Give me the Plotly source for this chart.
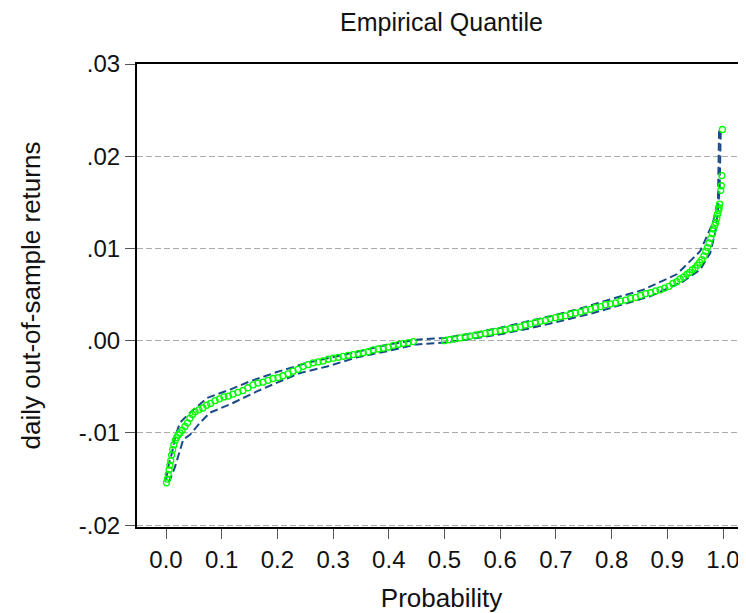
import plotly.graph_objects as go

# Empirical quantile points (probability, sorted daily out-of-sample return)
prob = [0.0010, 0.0025, 0.0040, 0.0055, 0.0070, 0.0085, 0.0100, 0.0120, 0.0140, 0.0165,
        0.0190, 0.0220, 0.0250, 0.0290, 0.0340, 0.0385, 0.0430, 0.0475, 0.0520, 0.0590,
        0.0660, 0.0730, 0.0800, 0.0880, 0.0960, 0.1040, 0.1120, 0.1200, 0.1290, 0.1380,
        0.1470, 0.1560, 0.1650, 0.1740, 0.1830, 0.1920, 0.2010, 0.2100, 0.2190, 0.2280,
        0.2370, 0.2460, 0.2550, 0.2640, 0.2730, 0.2820, 0.2910, 0.3000, 0.3090, 0.3180,
        0.3270, 0.3360, 0.3450, 0.3540, 0.3630, 0.3720, 0.3810, 0.3900, 0.3990, 0.4080,
        0.4170, 0.4260, 0.4350, 0.4440, 0.5000, 0.5090, 0.5180, 0.5280, 0.5370, 0.5460,
        0.5550, 0.5640, 0.5730, 0.5820, 0.5910, 0.6000, 0.6090, 0.6180, 0.6270, 0.6360,
        0.6450, 0.6540, 0.6630, 0.6720, 0.6810, 0.6900, 0.6990, 0.7080, 0.7170, 0.7260,
        0.7350, 0.7440, 0.7530, 0.7620, 0.7710, 0.7800, 0.7890, 0.7980, 0.8070, 0.8160,
        0.8250, 0.8340, 0.8430, 0.8520, 0.8610, 0.8700, 0.8790, 0.8870, 0.8950, 0.9030,
        0.9100, 0.9170, 0.9230, 0.9290, 0.9350, 0.9400, 0.9450, 0.9500, 0.9540, 0.9580,
        0.9620, 0.9660, 0.9690, 0.9720, 0.9750, 0.9780, 0.9810, 0.9830, 0.9850, 0.9870,
        0.9890, 0.9900, 0.9920, 0.9930, 0.9940, 0.9960, 0.9970, 0.9980, 0.9990]
quantile = [-0.0154, -0.0150, -0.0145, -0.0140, -0.0135, -0.0130, -0.0124, -0.0118, -0.0113, -0.0108,
            -0.0105, -0.0102, -0.0100, -0.0097, -0.0093, -0.0089, -0.0084, -0.0080, -0.0077, -0.0075,
            -0.0073, -0.0070, -0.0068, -0.0065, -0.0063, -0.0061, -0.0060, -0.0058, -0.0056, -0.0054,
            -0.0051, -0.0048, -0.0046, -0.0045, -0.0043, -0.0041, -0.0040, -0.0038, -0.0036, -0.0033,
            -0.0031, -0.0028, -0.0026, -0.0024, -0.0023, -0.0022, -0.0020, -0.0019, -0.0018, -0.0017,
            -0.0016, -0.0015, -0.0014, -0.0013, -0.0012, -0.0010, -0.0009, -0.0008, -0.0007, -0.0005,
            -0.0004, -0.0003, -0.0002, -0.0001, 0.0000, 0.0001, 0.0002, 0.0003, 0.0004, 0.0005,
            0.0006, 0.0007, 0.0008, 0.0009, 0.0010, 0.0011, 0.0012, 0.0013, 0.0014, 0.0015,
            0.0017, 0.0018, 0.0020, 0.0021, 0.0022, 0.0024, 0.0025, 0.0026, 0.0027, 0.0029,
            0.0030, 0.0031, 0.0033, 0.0034, 0.0036, 0.0037, 0.0039, 0.0040, 0.0041, 0.0043,
            0.0044, 0.0046, 0.0047, 0.0049, 0.0051, 0.0052, 0.0054, 0.0055, 0.0057, 0.0059,
            0.0062, 0.0064, 0.0067, 0.0069, 0.0072, 0.0074, 0.0077, 0.0079, 0.0082, 0.0085,
            0.0088, 0.0092, 0.0097, 0.0101, 0.0106, 0.0111, 0.0116, 0.0121, 0.0125, 0.0128,
            0.0133, 0.0137, 0.0141, 0.0144, 0.0148, 0.0163, 0.0168, 0.0179, 0.0229]

# Confidence bands (dashed)
upper_prob = [0.000, 0.005, 0.011, 0.016, 0.025, 0.043, 0.074, 0.115, 0.151, 0.199,
              0.253, 0.307, 0.343, 0.400, 0.450, 0.500, 0.550, 0.600, 0.650, 0.700,
              0.750, 0.776, 0.856, 0.917, 0.959, 0.982, 0.991, 0.993]
upper_val = [-0.0151, -0.0134, -0.0121, -0.0105, -0.0089, -0.0078, -0.0062, -0.0053, -0.0044, -0.0034,
             -0.0024, -0.0017, -0.0012, -0.0004, 0.0001, 0.0003, 0.0008, 0.0014, 0.0021, 0.0028,
             0.0036, 0.0041, 0.0055, 0.0072, 0.0097, 0.0128, 0.0153, 0.0229]
lower_prob = [0.005, 0.016, 0.031, 0.043, 0.061, 0.079, 0.115, 0.163, 0.205, 0.241,
              0.289, 0.343, 0.400, 0.450, 0.500, 0.550, 0.600, 0.650, 0.700, 0.750,
              0.767, 0.869, 0.928, 0.959, 0.977, 0.986, 0.991, 0.994, 0.996]
lower_val = [-0.0154, -0.0137, -0.0107, -0.0102, -0.0089, -0.0078, -0.0069, -0.0055, -0.0044, -0.0035,
             -0.0028, -0.0018, -0.0011, -0.0004, -0.0002, 0.0002, 0.0007, 0.0013, 0.0020, 0.0028,
             0.0030, 0.0048, 0.0064, 0.0077, 0.0095, 0.0117, 0.0142, 0.0165, 0.0229]

x_ticks = [0.0, 0.1, 0.2, 0.3, 0.4, 0.5, 0.6, 0.7, 0.8, 0.9, 1.0]
x_tick_labels = ["0.0", "0.1", "0.2", "0.3", "0.4", "0.5", "0.6", "0.7", "0.8", "0.9", "1.0"]
y_ticks = [-0.02, -0.01, 0.0, 0.01, 0.02, 0.03]
y_tick_labels = ["-.02", "-.01", ".00", ".01", ".02", ".03"]

band_color = "#1B4A88"
fig = go.Figure()
fig.add_trace(go.Scatter(x=upper_prob, y=upper_val, mode="lines",
                         line=dict(color=band_color, width=2, dash="8px,4px"),
                         hoverinfo="skip", showlegend=False))
fig.add_trace(go.Scatter(x=lower_prob, y=lower_val, mode="lines",
                         line=dict(color=band_color, width=2, dash="8px,4px"),
                         hoverinfo="skip", showlegend=False))
fig.add_trace(go.Scatter(x=prob, y=quantile, mode="markers",
                         marker=dict(symbol="circle-open", size=6, color="#00FF00",
                                     line=dict(color="#00FF00", width=1.3)),
                         showlegend=False))

font = "Liberation Sans, Arial, sans-serif"
fs = 24
fig.update_layout(
    width=746, height=613,
    margin=dict(l=129, r=8, t=56, b=94),
    paper_bgcolor="white", plot_bgcolor="white",
    font=dict(family=font, size=fs, color="#111111"),
    title=dict(text="Empirical Quantile", x=0.5, xref="paper", xanchor="center",
               y=1 - 14 / 613, yref="container", yanchor="middle",
               font=dict(family=font, size=25, color="#111111")),
    xaxis=dict(range=[-0.0521, 1.0413], tickvals=x_ticks, ticktext=x_tick_labels,
               showgrid=False, zeroline=False,
               showline=True, linecolor="black", linewidth=2, mirror=True,
               ticks="outside", ticklen=10, tickcolor="#555555", tickwidth=1,
               ticklabelstandoff=0, tickfont=dict(size=fs),
               title=dict(text="Probability", standoff=17,
                          font=dict(family=font, size=26, color="#111111"))),
    yaxis=dict(range=[-0.0202, 0.03], tickvals=y_ticks, ticktext=y_tick_labels,
               showgrid=True, gridcolor="#ABABAB", griddash="6px,3px", gridwidth=1,
               zeroline=False,
               showline=True, linecolor="black", linewidth=2, mirror=False,
               ticks="outside", ticklen=10, tickcolor="#555555", tickwidth=1,
               ticklabelstandoff=0, tickfont=dict(size=fs),
               title=dict(text="daily out-of-sample returns", standoff=31,
                          font=dict(family=font, size=26, color="#111111"))),
)

fig.write_html("out.html")
